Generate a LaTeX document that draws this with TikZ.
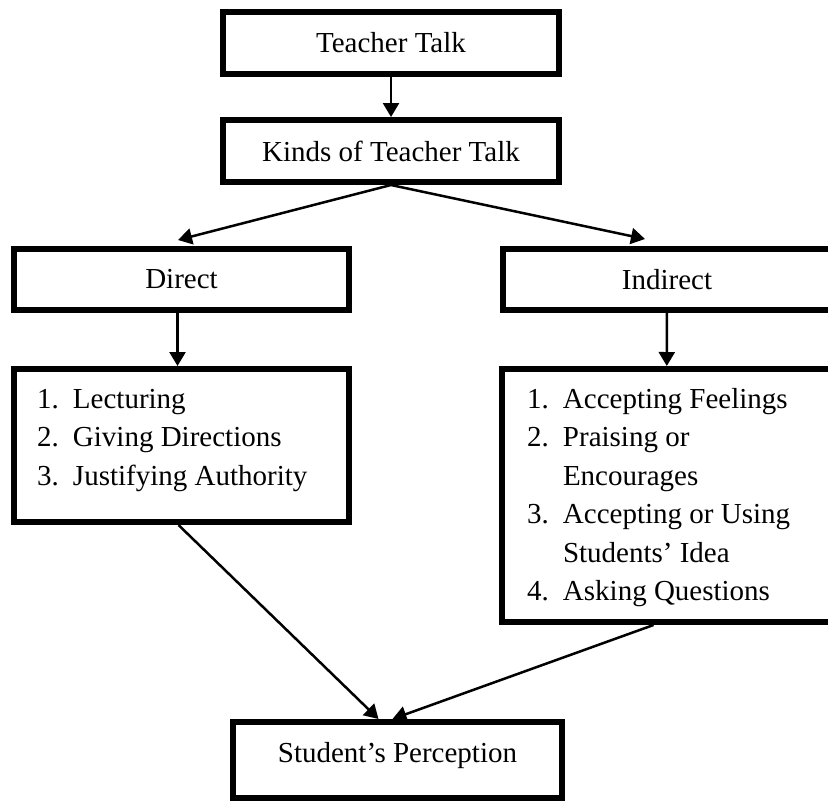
\documentclass[tikz,border=0pt]{standalone}
\usepackage{fontspec}
\setmainfont{Liberation Serif}
\usepackage{tikz}
\usetikzlibrary{arrows.meta,positioning}

\begin{document}
\begin{tikzpicture}[x=1pt,y=-1pt,
    box/.style={draw=black,line width=6pt,inner sep=0pt,
                font=\fontsize{29}{38.5}\selectfont},
    arr/.style={-{Triangle[length=14pt,width=16pt]},line width=2.5pt}
  ]
  \useasboundingbox (0,0) rectangle (828,801);
  % teacher talk and its kinds
  \node[box,minimum width=336pt,minimum height=62pt] (tt) at (391,43) {Teacher Talk};
  \node[box,minimum width=336pt,minimum height=62pt] (kt) at (391,151) {Kinds of Teacher Talk};
  \draw[arr] (tt) -- (kt);
  % direct branch
  \node[box,minimum width=335pt,minimum height=61pt] (dir) at (181.5,279.5) {Direct};
  \node[box,minimum width=335pt,minimum height=153pt,text height=27pt,text depth=102pt] (dl) at (181.5,445.5)
    {\begin{tabular}[t]{@{}p{36pt}@{}p{253pt}@{}}
      1. & Lecturing\\
      2. & Giving Directions\\
      3. & Justifying Authority
    \end{tabular}};
  \draw[arr] (kt.south) -- ([xshift=-3.5pt,yshift=6pt]dir.north);
  \draw[arr] ([xshift=-4pt]dir.south) -- ([xshift=-4pt]dl.north);
  % indirect branch
  \node[box,minimum width=328pt,minimum height=61pt] (ind) at (667,279.5) {Indirect};
  \node[box,minimum width=329pt,minimum height=253pt,text height=27pt,text depth=202pt] (il) at (666.5,495.5)
    {\begin{tabular}[t]{@{}p{36pt}@{}p{243pt}@{}}
      1. & Accepting Feelings\\
      2. & Praising or\\
         & Encourages\\
      3. & Accepting or Using\\
         & Students’ Idea\\
      4. & Asking Questions
    \end{tabular}};
  \draw[arr] (kt.south) -- ([xshift=-22pt,yshift=7pt]ind.north);
  \draw[arr] (ind) -- (il);
  % perception
  \node[box,minimum width=329pt,minimum height=76pt,text height=20pt,text depth=16pt] (sp) at (397.5,760) {Student’s Perception};
  \draw[arr] ([xshift=-3pt]dl.south) -- ([xshift=-19pt]sp.north);
  \draw[arr] ([xshift=-13pt]il.south) -- ([xshift=-5pt]sp.north);
\end{tikzpicture}
\end{document}
